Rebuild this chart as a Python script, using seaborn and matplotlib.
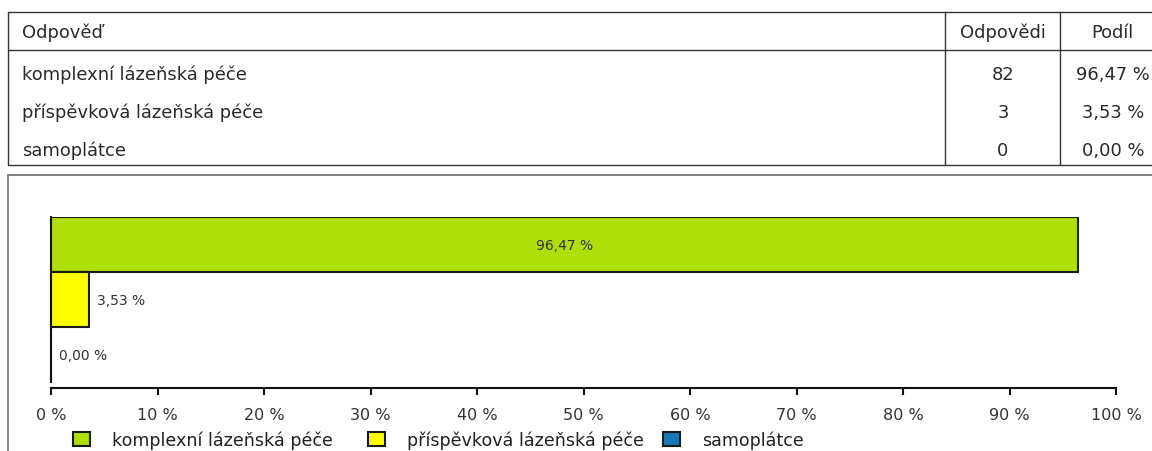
import matplotlib
matplotlib.use("Agg")
import matplotlib.pyplot as plt
from matplotlib.lines import Line2D
from matplotlib.patches import Rectangle
from matplotlib.ticker import FuncFormatter
import pandas as pd
import seaborn as sns

# Survey answers
odpovedi = ["komplexní lázeňská péče", "příspěvková lázeňská péče", "samoplátce"]
pocty = [82, 3, 0]
podil = [96.47, 3.53, 0.00]
barvy = ["#B0DE09", "#FFFF00", "#1878B8"]
x_ticks = [0, 10, 20, 30, 40, 50, 60, 70, 80, 90, 100]
hlavicka = ["Odpověď", "Odpovědi", "Podíl"]

W, H, DPI = 1152, 452, 100

sns.set_theme(style="white")
plt.rcParams["font.family"] = ["DejaVu Sans"]
plt.rcParams["text.color"] = "#222222"


def fx(px):
    return px / W


def fy(py):
    return 1 - py / H


def pct(v):
    return f"{v:.2f} %".replace(".", ",")


fig = plt.figure(figsize=(W / DPI, H / DPI), dpi=DPI)
fig.patch.set_facecolor("white")

# ---- summary table ----
line_kw = dict(transform=fig.transFigure, color="#333333", lw=1.0)
tbl_left, tbl_right, tbl_top, tbl_head, tbl_bottom = 8, 1160, 13, 51, 166
col1, col2 = 945, 1060
for y in (tbl_top, tbl_head, tbl_bottom):
    fig.add_artist(Line2D([fx(tbl_left), fx(tbl_right)], [fy(y), fy(y)], **line_kw))
for x in (tbl_left, col1, col2):
    fig.add_artist(Line2D([fx(x), fx(x)], [fy(tbl_top), fy(tbl_bottom)], **line_kw))

tfs = 12.9
tcol = "#2a2a2a"
fig.text(fx(22), fy(33), hlavicka[0], ha="left", va="center", fontsize=tfs, color=tcol)
fig.text(fx(1003), fy(33), hlavicka[1], ha="center", va="center", fontsize=tfs, color=tcol)
fig.text(fx(1112), fy(33), hlavicka[2], ha="center", va="center", fontsize=tfs, color=tcol)
row_y = [75, 113, 151]
for y, name, n, p in zip(row_y, odpovedi, pocty, podil):
    fig.text(fx(22), fy(y), name, ha="left", va="center", fontsize=tfs, color=tcol)
    fig.text(fx(1003), fy(y), str(n), ha="center", va="center", fontsize=tfs, color=tcol)
    fig.text(fx(1113), fy(y), pct(p), ha="center", va="center", fontsize=tfs, color=tcol)

# ---- chart frame ----
fig.add_artist(Rectangle((fx(8), fy(470)), fx(1170) - fx(8), fy(176) - fy(470),
                         transform=fig.transFigure, fill=False,
                         edgecolor="#777777", lw=1.3))

# ---- bar chart ----
ax_left, ax_right, ax_top, ax_bottom = 51, 1116, 218, 389
ax = fig.add_axes([fx(ax_left), fy(ax_bottom),
                   fx(ax_right) - fx(ax_left), (ax_bottom - ax_top) / H])

df = pd.DataFrame({"odpoved": odpovedi, "podil": podil})
sns.barplot(data=df, x="podil", y="odpoved", hue="odpoved", hue_order=odpovedi,
            order=odpovedi, palette=barvy, saturation=1, width=1.0,
            edgecolor="#1a1a1a", linewidth=1.5, errorbar=None, orient="h",
            legend=True, ax=ax)

ax.set_xlim(0, 100)
ax.set_ylim(2.609, -0.5)
ax.set_xlabel("")
ax.set_ylabel("")
ax.set_yticks([])
ax.set_facecolor("white")
for side in ("top", "right"):
    ax.spines[side].set_visible(False)
for side in ("left", "bottom"):
    ax.spines[side].set_color("#111111")
    ax.spines[side].set_linewidth(1.5)
ax.spines["left"].set_bounds(-0.5, 2.5)

ax.set_xticks(x_ticks)
ax.xaxis.set_major_formatter(FuncFormatter(lambda v, _: f"{v:.0f} %"))
ax.tick_params(axis="x", direction="out", length=5, width=1.5, pad=9,
               labelsize=11.5, colors="#111111", labelcolor="#333333",
               bottom=True)

for i, v in enumerate(podil):
    if v > 50:
        ax.text(v / 2, i, pct(v), ha="center", va="center", fontsize=10, color="#333333")
    else:
        ax.annotate(pct(v), (v, i), xytext=(8, 0), textcoords="offset pixels",
                    ha="left", va="center", fontsize=10, color="#333333")

# Legend: one entry per fixed-width slot below the axis
handles = ax.get_legend().legend_handles
labels = [t.get_text() for t in ax.get_legend().get_texts()]
ax.get_legend().remove()
slot_x = [73, 368, 663]
for h, lab, c, x0 in zip(handles, labels, barvy, slot_x):
    h.set_facecolor(c)
    h.set_edgecolor("#1a1a1a")
    h.set_linewidth(1.5)
    lg = fig.legend([h], [lab], loc="center left", bbox_to_anchor=(fx(x0), fy(441)),
                    bbox_transform=fig.transFigure, frameon=False, borderpad=0,
                    borderaxespad=0, handlelength=0.97, handleheight=0.8,
                    handletextpad=1.25, fontsize=12.65)
    for t in lg.get_texts():
        t.set_color("#222222")

fig.savefig("out.png", dpi=DPI, facecolor="white")
